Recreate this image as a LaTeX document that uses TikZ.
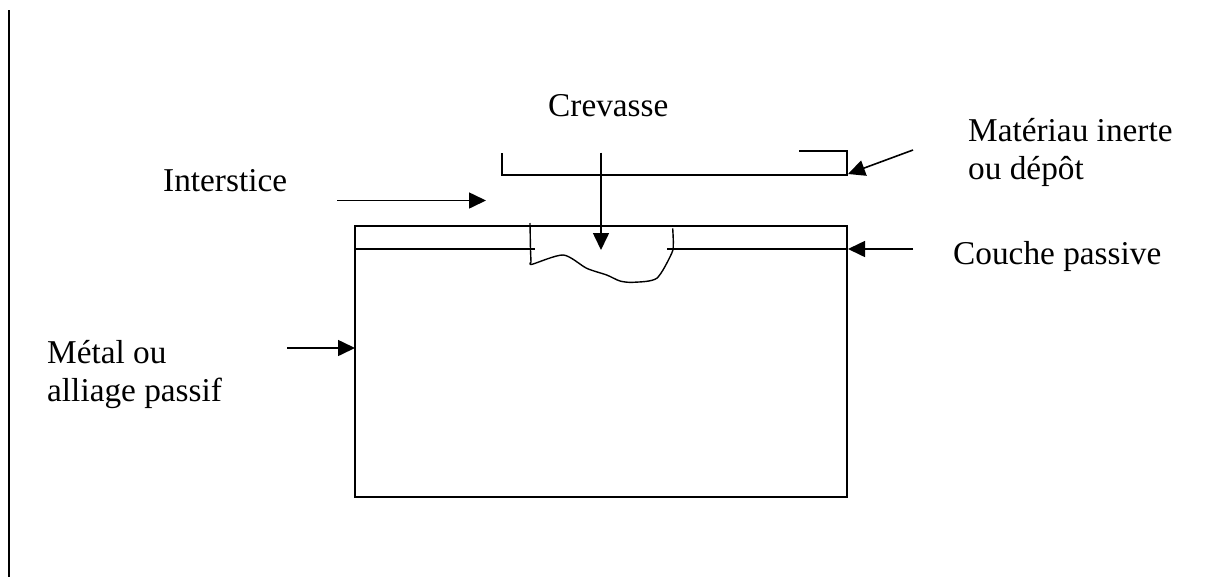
\documentclass[tikz,border=0pt]{standalone}
\usepackage{fontspec}
\setmainfont{Liberation Serif}
\usetikzlibrary{arrows.meta}
\begin{document}
\begin{tikzpicture}[x=1pt,y=-1pt,
  ln/.style={line width=1.6pt, line cap=butt},
  arr/.style={line width=1.6pt, -{Triangle[length=17pt,width=16pt]}},
  lbl/.style={anchor=base west, inner sep=0pt, font=\fontsize{33.3}{38.3}\selectfont}]
\useasboundingbox (0,0) rectangle (1213,587);
% left margin line
\coordinate (mt) at (9,10);
\coordinate (mb) at (9,577);
\draw[ln] (mt) -- (mb);
% main block
\coordinate (rNW) at (355,226);
\coordinate (rSE) at (847,497);
\draw[ln] (rNW) rectangle (rSE);
% passive layer
\coordinate (pL) at (355,249);
\coordinate (pLe) at (535,249);
\coordinate (pRs) at (667,249);
\coordinate (pR) at (847,249);
\draw[ln] (pL) -- (pLe);
\draw[ln] (pRs) -- (pR);
% crevasse pit
\draw[line width=1.4pt, line join=round]
  (530,223) -- (530.5,250) -- (531,262)
  plot[smooth, tension=0.45] coordinates {(531,262) (532,264.3) (563.3,255) (586.7,268.3) (606.7,275) (620,281) (633.3,282.3) (656.7,278.3) (671.7,253.3) (673.3,243) (672.7,228.3)};
% deposit bracket
\coordinate (dL) at (502,153);
\coordinate (dBL) at (502,175);
\coordinate (dBR) at (847,175);
\coordinate (dTR) at (847,151);
\coordinate (dTL) at (799,151);
\draw[ln] (dL) -- (dBL) -- (dBR) -- (dTR) -- (dTL);
% labels
\node[lbl] (crev) at (548,116.5) {Crevasse};
\node[lbl] (inter) at (163,191.5) {Interstice};
\node[lbl] (depot) at (968,141.5) {\vtop{\hbox{Matériau inerte}\hbox{ou dépôt}}};
\node[lbl] (couche) at (953,264.5) {Couche passive};
\node[lbl] (metal) at (47,363) {\vtop{\hbox{Métal ou}\hbox{alliage passif}}};
% arrows
\coordinate (cT) at (601,152.5);
\coordinate (cH) at (601,250);
\draw[arr] (cT) -- (cH);
\coordinate (iT) at (337,200.5);
\coordinate (iH) at (486,200.5);
\draw[arr] (iT) -- (iH);
\coordinate (dT) at (913,150);
\coordinate (dH) at (848,174);
\draw[arr] (dT) -- (dH);
\coordinate (pT) at (913,249);
\coordinate (pH) at (848,249);
\draw[arr] (pT) -- (pH);
\coordinate (mT) at (287,348);
\coordinate (mH) at (355,348);
\draw[arr] (mT) -- (mH);
\end{tikzpicture}
\end{document}
